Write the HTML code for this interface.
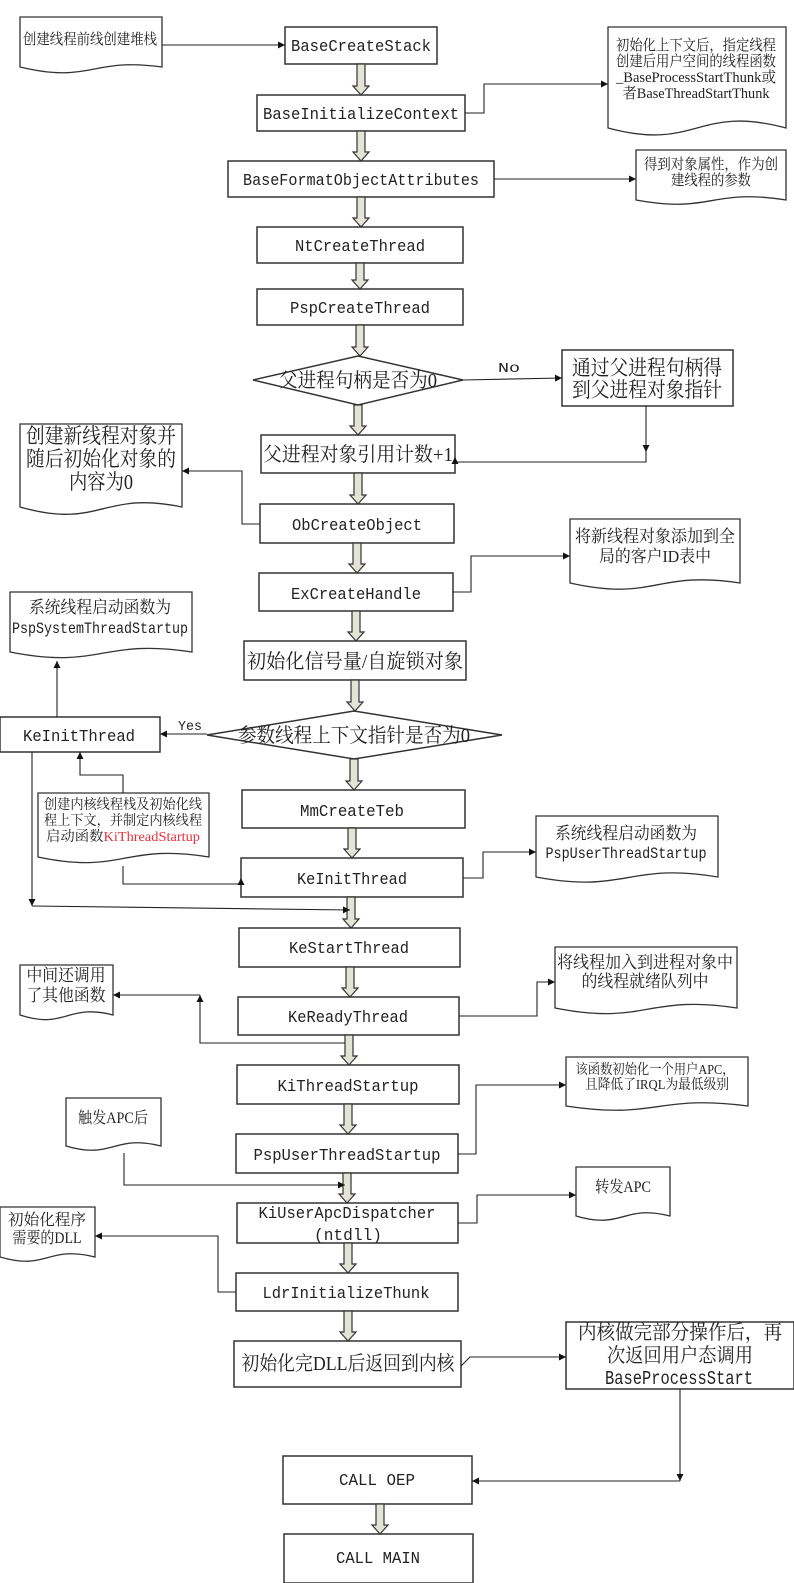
<!DOCTYPE html>
<html><head><meta charset="utf-8"><style>
html,body{margin:0;padding:0;background:#fff}
svg{display:block}
.b{fill:#fff;stroke:#333;stroke-width:1.5}
.d{fill:#fff;stroke:#333;stroke-width:1.3}
.ar{fill:#e4e4d6;stroke:#333;stroke-width:1.2}
.l{fill:none;stroke:#222;stroke-width:1.1}
.m{font-family:"Liberation Mono","Noto Serif CJK SC",monospace;fill:#222}
.c{font-family:"Liberation Serif","Noto Serif CJK SC",serif;fill:#222}
text{text-anchor:middle}
</style></head><body>
<svg width="794" height="1583" viewBox="0 0 794 1583" xmlns="http://www.w3.org/2000/svg">
<defs><marker id="a" viewBox="0 0 10 10" refX="10" refY="5" markerWidth="7" markerHeight="7" orient="auto" markerUnits="userSpaceOnUse"><path d="M0,0 L10,5 L0,10 z" fill="#111"/></marker></defs>

<!-- documents -->
<path class="d" d="M20,17 H162 V67 C91,57 91,84 20,67 Z"/>
<path class="d" d="M608,27 H786 V128 C697,104 697,152 608,128 Z"/>
<path class="d" d="M636,150 H786 V200 C711,188 711,214 636,200 Z"/>
<path class="d" d="M20,424 H182 V507 C101,490 101,530 20,507 Z"/>
<path class="d" d="M570,519 H740 V583 C655,570 655,602 570,583 Z"/>
<path class="d" d="M10,592 H192 V652 C101,638 101,670 10,652 Z"/>
<path class="d" d="M38,793 H209 V857 C123,843 123,875 38,857 Z"/>
<path class="d" d="M536,816 H718 V877 C627,862 627,894 536,877 Z"/>
<path class="d" d="M555,947 H737 V1008 C646,994 646,1026 555,1008 Z"/>
<path class="d" d="M20,965 H113 V1015 C66,1003 66,1030 20,1015 Z"/>
<path class="d" d="M566,1057 H748 V1106 C657,1094 657,1120 566,1106 Z"/>
<path class="d" d="M66,1098 H161 V1146 C113,1134 113,1160 66,1146 Z"/>
<path class="d" d="M576,1167 H670 V1216 C623,1204 623,1230 576,1216 Z"/>
<path class="d" d="M0,1207 H95 V1257 C47,1245 47,1271 0,1257 Z"/>

<!-- boxes -->
<rect class="b" x="285" y="27" width="152" height="37"/>
<rect class="b" x="257" y="95" width="208" height="36"/>
<rect class="b" x="228" y="161" width="266" height="36"/>
<rect class="b" x="257" y="227" width="206" height="36"/>
<rect class="b" x="257" y="289" width="206" height="36"/>
<polygon class="b" points="253,380 358,356 463,380 358,405"/>
<rect class="b" x="562" y="350" width="171" height="56"/>
<rect class="b" x="261" y="435" width="194" height="38"/>
<rect class="b" x="260" y="504" width="194" height="39"/>
<rect class="b" x="259" y="573" width="194" height="38"/>
<rect class="b" x="244" y="641" width="222" height="39"/>
<polygon class="b" points="207,735 354,711 502,735 354,759"/>
<rect class="b" x="0" y="717" width="160" height="35"/>
<rect class="b" x="242" y="790" width="223" height="38"/>
<rect class="b" x="241" y="858" width="222" height="39"/>
<rect class="b" x="239" y="928" width="221" height="39"/>
<rect class="b" x="238" y="997" width="221" height="38"/>
<rect class="b" x="237" y="1065" width="222" height="39"/>
<rect class="b" x="236" y="1134" width="222" height="39"/>
<rect class="b" x="237" y="1203" width="221" height="40"/>
<rect class="b" x="236" y="1273" width="222" height="38"/>
<rect class="b" x="234" y="1341" width="227" height="46"/>
<rect class="b" x="566" y="1322" width="228" height="67"/>
<rect class="b" x="283" y="1456" width="189" height="48"/>
<rect class="b" x="284" y="1534" width="189" height="49"/>

<!-- block arrows -->
<g class="ar">
<polygon points="357,64 365,64 365,86 369,86 361,95 353,86 357,86"/>
<polygon points="357,131 365,131 365,152 369,152 361,161 353,152 357,152"/>
<polygon points="357,197 365,197 365,218 369,218 361,227 353,218 357,218"/>
<polygon points="356,263 364,263 364,280 368,280 360,289 352,280 356,280"/>
<polygon points="356,325 364,325 364,347 368,347 360,356 352,347 356,347"/>
<polygon points="354,405 362,405 362,426 366,426 358,435 350,426 354,426"/>
<polygon points="354,473 362,473 362,495 366,495 358,504 350,495 354,495"/>
<polygon points="353,543 361,543 361,564 365,564 357,573 349,564 353,564"/>
<polygon points="352,611 360,611 360,632 364,632 356,641 348,632 352,632"/>
<polygon points="351,680 359,680 359,702 363,702 355,711 347,702 351,702"/>
<polygon points="350,759 358,759 358,781 362,781 354,790 346,781 350,781"/>
<polygon points="348,828 356,828 356,849 360,849 352,858 344,849 348,849"/>
<polygon points="347,897 355,897 355,919 359,919 351,928 343,919 347,919"/>
<polygon points="346,967 354,967 354,988 358,988 350,997 342,988 346,988"/>
<polygon points="345,1035 353,1035 353,1056 357,1056 349,1065 341,1056 345,1056"/>
<polygon points="344,1104 352,1104 352,1125 356,1125 348,1134 340,1125 344,1125"/>
<polygon points="343,1173 351,1173 351,1194 355,1194 347,1203 339,1194 343,1194"/>
<polygon points="344,1243 352,1243 352,1264 356,1264 348,1273 340,1264 344,1264"/>
<polygon points="344,1311 352,1311 352,1332 356,1332 348,1341 340,1332 344,1332"/>
<polygon points="376,1504 384,1504 384,1525 388,1525 380,1534 372,1525 376,1525"/>
</g>

<!-- connectors -->
<g class="l">
<line x1="162" y1="45" x2="285" y2="45" marker-end="url(#a)"/>
<polyline points="465,113 484,113 484,84 608,84" marker-end="url(#a)"/>
<line x1="494" y1="179" x2="636" y2="179" marker-end="url(#a)"/>
<line x1="463" y1="380" x2="562" y2="378" marker-end="url(#a)"/>
<line x1="646" y1="406" x2="646" y2="452" marker-end="url(#a)"/>
<polyline points="646,452 646,462 455,462 455,457" marker-end="url(#a)"/>
<polyline points="260,524 242,524 242,471 182,471" marker-end="url(#a)"/>
<polyline points="453,592 471,592 471,556 570,556" marker-end="url(#a)"/>
<line x1="207" y1="734" x2="160" y2="734" marker-end="url(#a)"/>
<line x1="57" y1="717" x2="57" y2="661" marker-end="url(#a)"/>
<polyline points="123,793 123,775 80,775 80,752" marker-end="url(#a)"/>
<polyline points="123,866 123,884 241,884 241,878" marker-end="url(#a)"/>
<polyline points="463,878 483,878 483,852 536,852" marker-end="url(#a)"/>
<line x1="32" y1="752" x2="32" y2="906" marker-end="url(#a)"/>
<line x1="32" y1="906" x2="350" y2="910" marker-end="url(#a)"/>
<polyline points="459,1016 537,1016 537,982 555,982" marker-end="url(#a)"/>
<polyline points="345,1043 200,1043 200,995" marker-end="url(#a)"/>
<line x1="200" y1="995" x2="113" y2="995" marker-end="url(#a)"/>
<polyline points="458,1154 476,1154 476,1085 566,1085" marker-end="url(#a)"/>
<polyline points="124,1153 124,1185 345,1185" marker-end="url(#a)"/>
<polyline points="458,1223 477,1223 477,1195 576,1195" marker-end="url(#a)"/>
<polyline points="236,1292 218,1292 218,1236 95,1236" marker-end="url(#a)"/>
<polyline points="461,1366 470,1357 566,1357" marker-end="url(#a)"/>
<line x1="680" y1="1389" x2="680" y2="1481" marker-end="url(#a)"/>
<line x1="680" y1="1481" x2="472" y2="1481" marker-end="url(#a)"/>
</g>

<!-- texts -->
<g class="m" font-size="17" lengthAdjust="spacingAndGlyphs">
<text x="361" y="51" textLength="140" lengthAdjust="spacingAndGlyphs">BaseCreateStack</text>
<text x="361" y="119" textLength="196" lengthAdjust="spacingAndGlyphs">BaseInitializeContext</text>
<text x="361" y="185" textLength="236" lengthAdjust="spacingAndGlyphs">BaseFormatObjectAttributes</text>
<text x="360" y="251" textLength="130" lengthAdjust="spacingAndGlyphs">NtCreateThread</text>
<text x="360" y="313" textLength="140" lengthAdjust="spacingAndGlyphs">PspCreateThread</text>
<text x="357" y="530" textLength="130" lengthAdjust="spacingAndGlyphs">ObCreateObject</text>
<text x="356" y="599" textLength="130" lengthAdjust="spacingAndGlyphs">ExCreateHandle</text>
<text x="79" y="741" textLength="112" lengthAdjust="spacingAndGlyphs">KeInitThread</text>
<text x="352" y="816" textLength="104" lengthAdjust="spacingAndGlyphs">MmCreateTeb</text>
<text x="352" y="884" textLength="110" lengthAdjust="spacingAndGlyphs">KeInitThread</text>
<text x="349" y="953" textLength="120" lengthAdjust="spacingAndGlyphs">KeStartThread</text>
<text x="348" y="1022" textLength="120" lengthAdjust="spacingAndGlyphs">KeReadyThread</text>
<text x="348" y="1091" textLength="141" lengthAdjust="spacingAndGlyphs">KiThreadStartup</text>
<text x="347" y="1160" textLength="187" lengthAdjust="spacingAndGlyphs">PspUserThreadStartup</text>
<text x="347" y="1218" textLength="177" lengthAdjust="spacingAndGlyphs">KiUserApcDispatcher</text>
<text x="348" y="1240" textLength="68" lengthAdjust="spacingAndGlyphs">(ntdll)</text>
<text x="346" y="1298" textLength="167" lengthAdjust="spacingAndGlyphs">LdrInitializeThunk</text>
<text x="377" y="1485" textLength="76" lengthAdjust="spacingAndGlyphs">CALL OEP</text>
<text x="378" y="1563" textLength="84" lengthAdjust="spacingAndGlyphs">CALL MAIN</text>
<text x="509" y="372" font-size="14" textLength="22" lengthAdjust="spacingAndGlyphs">No</text>
<text x="190" y="730" font-size="14" textLength="24" lengthAdjust="spacingAndGlyphs">Yes</text>
</g>

<g class="c">
<text x="90" y="44" font-size="15" textLength="134" lengthAdjust="spacingAndGlyphs">创建线程前线创建堆栈</text>
<text x="696" y="50" font-size="15" textLength="160" lengthAdjust="spacingAndGlyphs">初始化上下文后，指定线程</text>
<text x="696" y="66" font-size="15" textLength="160" lengthAdjust="spacingAndGlyphs">创建后用户空间的线程函数</text>
<text x="696" y="82" font-size="15" textLength="160" lengthAdjust="spacingAndGlyphs">_BaseProcessStartThunk或</text>
<text x="696" y="98" font-size="15" textLength="147" lengthAdjust="spacingAndGlyphs">者BaseThreadStartThunk</text>
<text x="711" y="169" font-size="15" textLength="134" lengthAdjust="spacingAndGlyphs">得到对象属性，作为创</text>
<text x="711" y="185" font-size="15" textLength="80" lengthAdjust="spacingAndGlyphs">建线程的参数</text>
<text x="358" y="387" font-size="20" textLength="158" lengthAdjust="spacingAndGlyphs">父进程句柄是否为0</text>
<text x="647" y="375" font-size="21" textLength="150" lengthAdjust="spacingAndGlyphs">通过父进程句柄得</text>
<text x="647" y="397" font-size="21" textLength="150" lengthAdjust="spacingAndGlyphs">到父进程对象指针</text>
<text x="358" y="461" font-size="20" textLength="190" lengthAdjust="spacingAndGlyphs">父进程对象引用计数+1</text>
<text x="101" y="443" font-size="21" textLength="150" lengthAdjust="spacingAndGlyphs">创建新线程对象并</text>
<text x="101" y="466" font-size="21" textLength="150" lengthAdjust="spacingAndGlyphs">随后初始化对象的</text>
<text x="101" y="489" font-size="21" textLength="64" lengthAdjust="spacingAndGlyphs">内容为0</text>
<text x="655" y="542" font-size="17" textLength="160" lengthAdjust="spacingAndGlyphs">将新线程对象添加到全</text>
<text x="655" y="562" font-size="17" textLength="112" lengthAdjust="spacingAndGlyphs">局的客户ID表中</text>
<text x="100" y="613" font-size="17" textLength="142" lengthAdjust="spacingAndGlyphs">系统线程启动函数为</text>
<text x="100" y="633" font-size="16" textLength="176" lengthAdjust="spacingAndGlyphs" class="m">PspSystemThreadStartup</text>
<text x="355" y="668" font-size="20" textLength="216" lengthAdjust="spacingAndGlyphs">初始化信号量/自旋锁对象</text>
<text x="354" y="742" font-size="20" textLength="232" lengthAdjust="spacingAndGlyphs">参数线程上下文指针是否为0</text>
<text x="123" y="809" font-size="14" textLength="158" lengthAdjust="spacingAndGlyphs">创建内核线程栈及初始化线</text>
<text x="123" y="825" font-size="14" textLength="158" lengthAdjust="spacingAndGlyphs">程上下文，并制定内核线程</text>
<text x="123" y="841" font-size="14" textLength="154" lengthAdjust="spacingAndGlyphs">启动函数<tspan fill="#e8323c">KiThreadStartup</tspan></text>
<text x="626" y="839" font-size="17" textLength="142" lengthAdjust="spacingAndGlyphs">系统线程启动函数为</text>
<text x="626" y="858" font-size="16" textLength="161" lengthAdjust="spacingAndGlyphs" class="m">PspUserThreadStartup</text>
<text x="645" y="968" font-size="17" textLength="176" lengthAdjust="spacingAndGlyphs">将线程加入到进程对象中</text>
<text x="645" y="987" font-size="17" textLength="127" lengthAdjust="spacingAndGlyphs">的线程就绪队列中</text>
<text x="66" y="981" font-size="17" textLength="79" lengthAdjust="spacingAndGlyphs">中间还调用</text>
<text x="66" y="1001" font-size="17" textLength="79" lengthAdjust="spacingAndGlyphs">了其他函数</text>
<text x="655" y="1074" font-size="14" textLength="159" lengthAdjust="spacingAndGlyphs">该函数初始化一个用户APC，</text>
<text x="657" y="1089" font-size="14" textLength="144" lengthAdjust="spacingAndGlyphs">且降低了IRQL为最低级别</text>
<text x="113" y="1123" font-size="16" textLength="70" lengthAdjust="spacingAndGlyphs">触发APC后</text>
<text x="623" y="1192" font-size="16" textLength="56" lengthAdjust="spacingAndGlyphs">转发APC</text>
<text x="47" y="1225" font-size="16" textLength="78" lengthAdjust="spacingAndGlyphs">初始化程序</text>
<text x="47" y="1243" font-size="16" textLength="69" lengthAdjust="spacingAndGlyphs">需要的DLL</text>
<text x="348" y="1370" font-size="20" textLength="213" lengthAdjust="spacingAndGlyphs">初始化完DLL后返回到内核</text>
<text x="680" y="1339" font-size="20" textLength="204" lengthAdjust="spacingAndGlyphs">内核做完部分操作后，再</text>
<text x="680" y="1362" font-size="20" textLength="146" lengthAdjust="spacingAndGlyphs">次返回用户态调用</text>
<text x="679" y="1384" font-size="19" textLength="148" lengthAdjust="spacingAndGlyphs" class="m">BaseProcessStart</text>
</g>
</svg>
</body></html>
